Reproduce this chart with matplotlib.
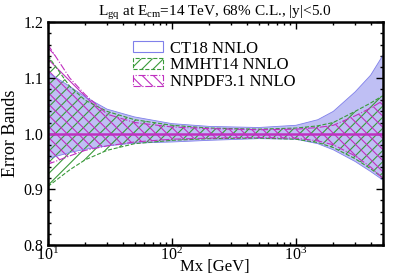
import numpy as np
import matplotlib.pyplot as plt
from matplotlib.patches import Patch
from matplotlib.ticker import MultipleLocator, LogLocator, NullFormatter

plt.rcParams['font.family'] = 'Liberation Serif'
plt.rcParams['mathtext.fontset'] = 'custom'
plt.rcParams['mathtext.rm'] = 'Liberation Serif'
plt.rcParams['mathtext.it'] = 'Liberation Serif'
plt.rcParams['hatch.linewidth'] = 0.8

# Mx grid [GeV] and error band edges
mx = [10, 15, 20, 30, 50, 100, 200, 500, 1000, 1500, 2000, 3000, 4000, 5000]

ct18_up = [1.110, 1.085, 1.066, 1.044, 1.030, 1.018, 1.013, 1.011, 1.015, 1.025, 1.040, 1.075, 1.105, 1.140]
ct18_lo = [0.955, 0.966, 0.972, 0.978, 0.983, 0.985, 0.988, 0.991, 0.990, 0.982, 0.971, 0.950, 0.932, 0.917]

mmht_up = [1.140, 1.085, 1.060, 1.040, 1.025, 1.015, 1.010, 1.008, 1.010, 1.014, 1.020, 1.040, 1.055, 1.068]
mmht_lo = [0.905, 0.935, 0.953, 0.970, 0.982, 0.988, 0.991, 0.992, 0.990, 0.984, 0.975, 0.955, 0.937, 0.921]

nnpdf_up = [1.160, 1.100, 1.070, 1.035, 1.020, 1.012, 1.009, 1.007, 1.008, 1.011, 1.015, 1.032, 1.046, 1.059]
nnpdf_lo = [0.945, 0.960, 0.970, 0.978, 0.985, 0.990, 0.992, 0.993, 0.992, 0.987, 0.980, 0.960, 0.940, 0.920]

blue = '#8080ea'
green = '#3a9a3a'
magenta = '#c030c0'

fig = plt.figure(figsize=(3.99, 2.79), dpi=100)
ax = fig.add_axes([0.12, 0.122, 0.839, 0.798])

# CT18: filled band
ax.fill_between(mx, ct18_lo, ct18_up, facecolor=blue, alpha=0.5, edgecolor='none')
ax.plot(mx, ct18_up, color=blue, lw=0.6)
ax.plot(mx, ct18_lo, color=blue, lw=0.6)

# MMHT14: green hatched band
ax.fill_between(mx, mmht_lo, mmht_up, facecolor='none', edgecolor=green, hatch='///', lw=0)
ax.plot(mx, mmht_up, color=green, lw=0.8, ls='--')
ax.plot(mx, mmht_lo, color=green, lw=0.8, ls='--')

# NNPDF3.1: magenta hatched band
ax.fill_between(mx, nnpdf_lo, nnpdf_up, facecolor='none', edgecolor=magenta, hatch='\\\\\\', lw=0)
ax.plot(mx, nnpdf_up, color=magenta, lw=0.8, ls='-.')
ax.plot(mx, nnpdf_lo, color=magenta, lw=0.8, ls='-.')

ax.axhline(1.0, color=magenta, lw=1.8)

ax.set_xscale('log')
ax.set_xlim(10, 5000)
ax.set_ylim(0.8, 1.2)
ax.yaxis.set_major_locator(MultipleLocator(0.1))
ax.yaxis.set_minor_locator(MultipleLocator(0.02))
ax.xaxis.set_minor_locator(LogLocator(base=10, subs=np.arange(2, 10)))
ax.xaxis.set_minor_formatter(NullFormatter())
ax.yaxis.set_major_formatter(plt.FuncFormatter(lambda v, p: f'{v:.1f}'))

ax.tick_params(which='both', direction='in', top=True, right=True, labelsize=11.5, width=1.0)
ax.tick_params(which='major', length=5)
ax.tick_params(which='minor', length=2.5)
ax.tick_params(axis='x', pad=1)
for s in ax.spines.values():
    s.set_linewidth(1.8)

ax.set_xlabel('Mx [GeV]', fontsize=12, labelpad=-3)
ax.set_ylabel('Error Bands', fontsize=13, labelpad=3)
ax.set_title(r'L$_{\mathrm{gq}}$ at E$_{\mathrm{cm}}$=14 TeV, 68% C.L., |y|<5.0', fontsize=11, pad=3)

handles = [
    Patch(facecolor='none', edgecolor=blue, lw=0.8, label='CT18 NNLO'),
    Patch(facecolor='none', edgecolor=green, hatch='///', lw=0.8, ls='--', label='MMHT14 NNLO'),
    Patch(facecolor='none', edgecolor=magenta, hatch='\\\\\\', lw=0.8, ls='-.', label='NNPDF3.1 NNLO'),
]
ax.legend(handles=handles, loc='upper left', bbox_to_anchor=(0.22, 0.97), frameon=False,
          fontsize=12, handlelength=1.8, handleheight=0.6, labelspacing=0.05,
          handletextpad=0.4, borderpad=0.2)

fig.savefig('out.png', dpi=100)
